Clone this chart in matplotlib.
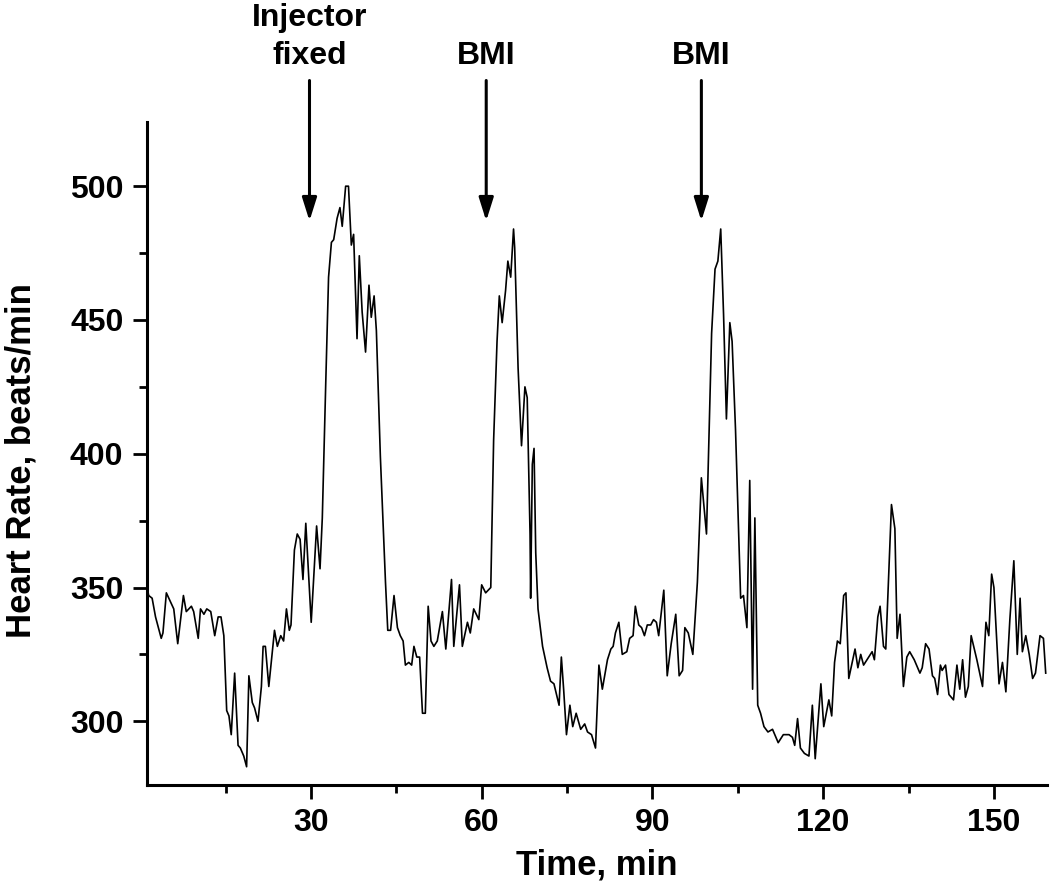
import matplotlib
matplotlib.use("Agg")
import matplotlib.pyplot as plt
from matplotlib.ticker import MultipleLocator

# heart rate trace (time in min, rate in beats/min)
time_min = [
    1.2, 1.5, 2.1, 2.7, 3.7, 4.0, 4.6, 5.9, 6.6, 7.6, 8.1, 9.0, 9.4, 10.2, 10.6,
    11.2, 11.7, 12.4, 13.1, 13.7, 14.2, 14.7, 15.2, 15.6, 16.0, 16.6, 17.2, 17.6,
    18.2, 18.7, 19.1, 19.7, 20.1, 20.7, 21.3, 21.6, 22.0, 22.6, 23.6, 24.1, 24.7,
    25.2, 25.7, 26.2, 26.5, 27.1, 27.6, 28.1, 28.6, 29.1, 30.05, 31.0, 31.6, 32.0,
    32.6, 33.1, 33.6, 34.0, 34.6, 35.1, 35.5, 36.1, 36.6, 37.1, 37.5, 38.1, 38.5,
    39.0, 39.6, 40.2, 40.6, 41.1, 41.5, 42.2, 43.1, 43.5, 44.0, 44.6, 45.2, 45.7,
    46.2, 46.6, 47.2, 47.7, 48.1, 48.6, 49.1, 49.6, 50.1, 50.6, 51.1, 51.6, 52.2,
    53.1, 53.7, 54.7, 55.1, 56.1, 56.6, 57.5, 58.0, 58.6, 59.5, 60.0, 60.7, 61.6,
    62.1, 62.7, 63.1, 63.6, 64.2, 64.6, 65.1, 65.6, 65.8, 66.4, 67.0, 67.6, 68.0,
    68.5, 68.6, 68.9, 69.2, 69.5, 69.9, 70.7, 71.5, 72.1, 72.7, 73.6, 74.0, 74.4,
    74.9, 75.5, 76.0, 76.6, 77.4, 78.1, 78.6, 79.3, 80.0, 80.6, 81.2, 82.1, 82.7,
    83.1, 83.5, 84.1, 84.7, 85.5, 86.0, 86.6, 87.0, 87.6, 88.1, 88.6, 89.1, 89.7,
    90.2, 90.7, 91.1, 92.0, 92.6, 93.3, 94.1, 94.7, 95.3, 95.7, 96.3, 97.1, 97.9,
    98.6, 99.5, 99.9, 100.4, 101.0, 101.5, 102.0, 102.5, 103.0, 103.6, 104.0, 104.6,
    105.5, 106.0, 106.6, 107.1, 107.6, 108.0, 108.5, 109.0, 109.6, 110.3, 111.1,
    112.1, 113.0, 114.0, 114.6, 115.0, 115.5, 116.0, 116.7, 117.5, 118.1, 118.6,
    119.6, 120.1, 121.0, 121.5, 122.0, 122.5, 123.0, 123.6, 124.0, 124.5, 125.6,
    126.1, 126.6, 127.1, 128.6, 129.0, 129.6, 130.0, 130.6, 131.0, 131.6, 132.0,
    132.6, 133.0, 133.5, 134.1, 134.7, 135.2, 136.0, 137.0, 137.4, 138.0, 138.6,
    139.2, 139.6, 140.1, 140.6, 140.9, 141.5, 142.1, 142.9, 143.5, 144.0, 144.5,
    145.0, 145.5, 146.0, 147.0, 148.0, 148.6, 149.1, 149.6, 150.0, 150.9, 151.5,
    152.1, 152.8, 153.5, 154.1, 154.6, 155.0, 155.6, 156.2, 156.8, 157.3, 158.1,
    158.7, 159.1,
]
heart_rate = [
    350, 347, 346, 339, 331, 333, 348, 342, 329, 347, 341, 343, 341, 331, 342,
    340, 342, 341, 332, 339, 339, 332, 304, 302, 295, 318, 291, 290,
    287, 283, 317, 307, 305, 300, 313, 328, 328, 313, 334, 328, 332,
    330, 342, 334, 336, 364, 370, 368, 353, 374, 337, 373, 357, 376,
    426, 466, 479, 480, 488, 492, 485, 500, 500, 478, 482, 443, 474,
    453, 438, 463, 451, 459, 446, 399, 352, 334, 334, 347, 335, 332,
    330, 321, 322, 321, 328, 324, 324, 303, 303, 343, 330, 328, 330,
    341, 327, 353, 328, 351, 328, 337, 333, 342, 338, 351, 348, 350,
    405, 442, 459, 449, 461, 472, 466, 484, 477, 432, 403, 425, 421,
    370, 346, 396, 402, 363, 342, 328, 320, 315, 314, 306, 324, 312,
    295, 306, 298, 303, 297, 299, 296, 295, 290, 321, 312, 323, 327,
    328, 333, 337, 325, 326, 331, 332, 343, 336, 335, 332, 336, 336,
    338, 337, 332, 349, 317, 329, 340, 317, 319, 335, 333, 325, 352,
    391, 370, 403, 445, 469, 472, 484, 452, 413, 449, 442, 409,
    346, 347, 335, 390, 312, 376, 306, 303, 298, 296, 297,
    292, 295, 295, 294, 291, 301, 290, 288, 287, 306, 286,
    314, 298, 308, 302, 322, 330, 329, 347, 348, 316, 327,
    320, 325, 321, 326, 323, 339, 343, 328, 327, 359, 381,
    372, 331, 340, 313, 324, 326, 323, 318, 320, 329, 327,
    317, 316, 310, 321, 319, 321, 310, 308, 321, 312, 323,
    309, 313, 332, 323, 313, 337, 332, 355, 350, 314, 322,
    311, 338, 360, 325, 346, 326, 332, 325, 316, 318, 332,
    331, 318,
]

# event markers above the trace
event_times = [29.75, 60.8, 98.6]
event_labels = [["Injector", "fixed"], ["BMI"], ["BMI"]]

plt.rcParams["font.family"] = ["Liberation Sans", "DejaVu Sans"]
plt.rcParams["font.weight"] = "bold"

fig = plt.figure(figsize=(10.5, 8.93), dpi=100)
ax = fig.add_axes([0.14, 0.1204, 0.857, 0.743])

ax.plot(time_min, heart_rate, color="black", linewidth=1.2)

ax.set_xlim(1.2, 159.3)
ax.set_ylim(276, 524)

for side in ["top", "right"]:
    ax.spines[side].set_visible(False)
for side in ["left", "bottom"]:
    ax.spines[side].set_linewidth(2.2)

ax.xaxis.set_major_locator(MultipleLocator(30))
ax.xaxis.set_minor_locator(MultipleLocator(15))
ax.yaxis.set_major_locator(MultipleLocator(50))
ax.yaxis.set_minor_locator(MultipleLocator(25))
ax.tick_params(which="major", direction="out", length=10, width=2, labelsize=23)
ax.tick_params(which="minor", direction="out", length=6, width=2)
ax.tick_params(axis="x", which="major", pad=6)
ax.tick_params(axis="y", which="major", pad=7)

ax.set_xlabel("Time, min", fontsize=25, fontweight="bold", labelpad=8)
ax.set_ylabel("Heart Rate, beats/min", fontsize=25, fontweight="bold")
ax.yaxis.set_label_coords(-0.122, 0.49)

# arrows and their labels
for t, lines in zip(event_times, event_labels):
    ax.annotate("", xy=(t, 487), xytext=(t, 539.5),
                arrowprops=dict(arrowstyle="-|>,head_length=0.7,head_width=0.22",
                                color="black", lw=2.2, shrinkA=0, shrinkB=0,
                                mutation_scale=20),
                annotation_clip=False)
    for k, line in enumerate(reversed(lines)):
        ax.text(t, 545.8 + k * 13.9, line, ha="center", va="baseline",
                fontsize=23, fontweight="bold", clip_on=False)

fig.savefig("out.png", dpi=100)
